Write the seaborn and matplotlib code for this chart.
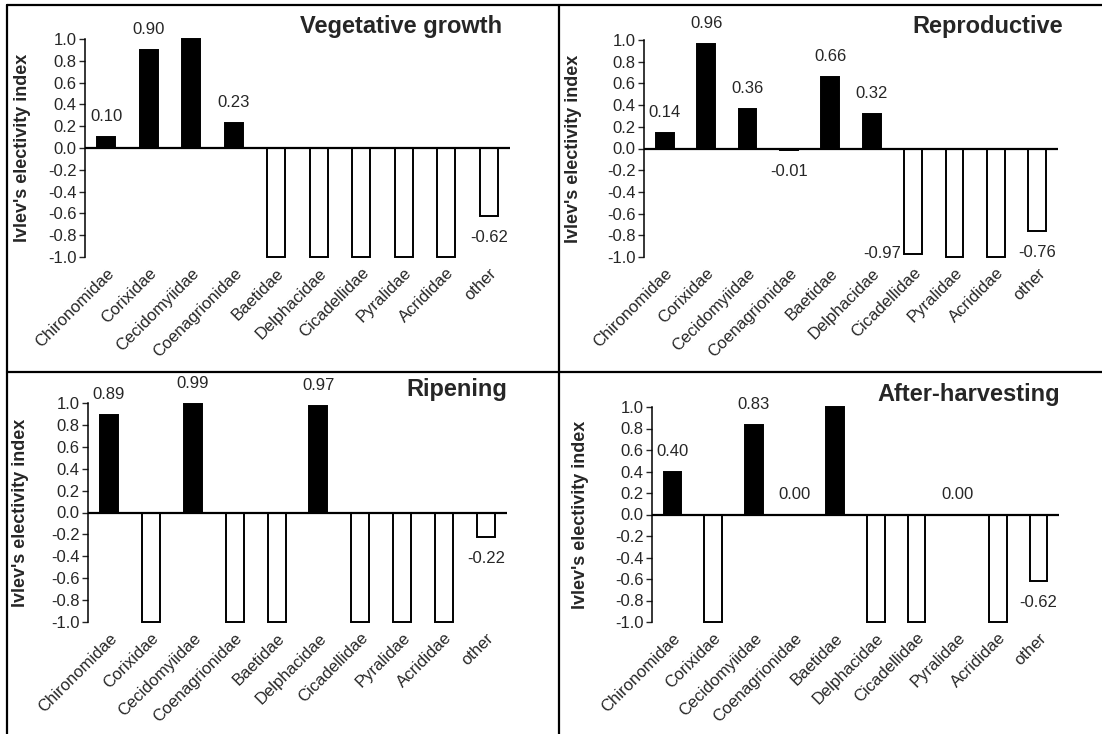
import matplotlib.pyplot as plt
from matplotlib.lines import Line2D
import pandas as pd
import seaborn as sns

categories = ['Chironomidae', 'Corixidae', 'Cecidomyiidae', 'Coenagrionidae', 'Baetidae',
              'Delphacidae', 'Cicadellidae', 'Pyralidae', 'Acrididae', 'other']

vegetative = [0.10, 0.90, 1.00, 0.23, -1.00, -1.00, -1.00, -1.00, -1.00, -0.62]
reproductive = [0.14, 0.96, 0.36, -0.01, 0.66, 0.32, -0.97, -1.00, -1.00, -0.76]
ripening = [0.89, -1.00, 0.99, -1.00, -1.00, 0.97, -1.00, -1.00, -1.00, -0.22]
after_harvesting = [0.40, -1.00, 0.83, 0.00, 1.00, -1.00, -1.00, 0.00, -1.00, -0.62]

stages = ['Vegetative growth', 'Reproductive', 'Ripening', 'After-harvesting']
y_ticks = [-1.0, -0.8, -0.6, -0.4, -0.2, 0.0, 0.2, 0.4, 0.6, 0.8, 1.0]
y_label = "Ivlev's electivity index"

sns.set_style('white')
plt.rcParams['font.family'] = ['Liberation Sans', 'DejaVu Sans']
plt.rcParams['axes.unicode_minus'] = False

W, H = 1102, 734
fig = plt.figure(figsize=(W / 100, H / 100), dpi=100)


def px_axes(left, top, right, bottom):
    return fig.add_axes([left / W, 1 - bottom / H, (right - left) / W, (bottom - top) / H])


# panel boxes in pixels: left, top, right, bottom
boxes = [(85, 39, 510, 257), (644, 40, 1058, 257), (88, 403, 507, 622), (652, 407, 1059, 622)]
title_dx = [-8, 5, 0, 1]
ylabel_dx = [-54, -62, -59, -63]
series = [vegetative, reproductive, ripening, after_harvesting]

for stage, vals, box, tdx, ldx in zip(stages, series, boxes, title_dx, ylabel_dx):
    ax = px_axes(*box)
    df = pd.DataFrame({
        'taxon': categories,
        'index': vals,
        'fill': ['pos' if v > 0 else 'neg' for v in vals],
    })
    sns.barplot(data=df, x='taxon', y='index', hue='fill', order=categories,
                hue_order=['pos', 'neg'], palette={'pos': 'black', 'neg': 'white'},
                dodge=False, width=0.43, edgecolor='black', linewidth=1.4,
                legend=False, ax=ax)
    for p in ax.patches:
        p.set_clip_on(False)

    ax.set_xlim(-0.5, len(categories) - 0.5)
    ax.set_ylim(-1.0, 1.0)
    ax.set_yticks(y_ticks)
    ax.set_yticklabels([f'{t:.1f}' for t in y_ticks], fontsize=12)
    ax.tick_params(axis='y', direction='out', length=4, width=1, left=True, pad=2)
    ax.tick_params(axis='x', length=0, pad=6)
    ax.set_xticks(range(len(categories)))
    ax.set_xticklabels(categories, rotation=45, ha='right', rotation_mode='anchor', fontsize=12)
    ax.set_xlabel('')

    for s in ['top', 'right', 'bottom']:
        ax.spines[s].set_visible(False)
    ax.spines['left'].set_linewidth(1.1)
    ax.spines['left'].set_color('black')
    ax.axhline(0, color='black', linewidth=1.6, zorder=5)

    ax.set_ylabel(y_label, fontsize=13, fontweight='bold')
    ax.yaxis.set_label_coords(ldx / (box[2] - box[0]), 0.5)

    # value labels for everything short of +/-1
    for i, v in enumerate(vals):
        if abs(v) >= 1:
            continue
        txt = f'{v:.2f}'
        if v >= 0:
            ax.text(i, v + 0.19, txt, ha='center', va='center', fontsize=12)
        elif v > -0.85:
            ax.text(i, v - 0.2, txt, ha='center', va='center', fontsize=12)
        else:
            ax.text(i - 0.3, v, txt, ha='right', va='center', fontsize=12)

    ax.annotate(stage, xy=(1, 1), xycoords='axes fraction', xytext=(tdx, 13),
                textcoords='offset pixels', ha='right', va='center',
                fontsize=17, fontweight='bold')

# panel frame lines
frame = [((7, W), (5, 5)), ((7, 7), (5, H)), ((559, 559), (5, H)), ((7, W), (372, 372))]
for xs, ys in frame:
    fig.add_artist(Line2D([x / W for x in xs], [1 - y / H for y in ys],
                          transform=fig.transFigure, color='black', linewidth=1.6))

fig.savefig('out.png', dpi=100)
